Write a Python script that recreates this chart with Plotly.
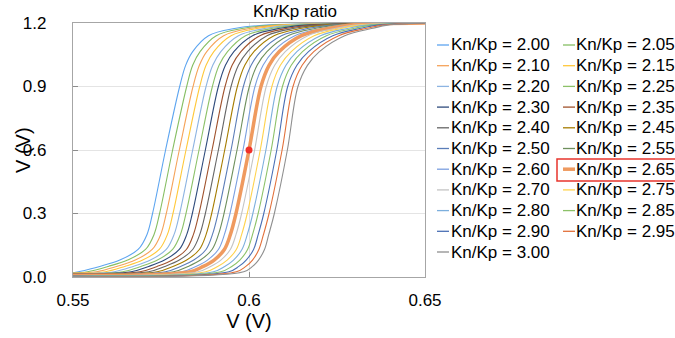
import plotly.graph_objects as go

# ---------------- data ----------------
ratios = [2.00, 2.05, 2.10, 2.15, 2.20, 2.25, 2.30, 2.35, 2.40, 2.45, 2.50,
          2.55, 2.60, 2.65, 2.70, 2.75, 2.80, 2.85, 2.90, 2.95, 3.00]

# input voltage where each curve starts / ends (left and right edges)
v_in_start = 0.55
v_in_end = 0.65
v_out_end = 1.2

# output voltage of each curve at V_in = 0.55
v_out_start = [0.020, 0.019, 0.018, 0.017, 0.016, 0.015, 0.015, 0.014, 0.013, 0.012, 0.011,
               0.010, 0.009, 0.008, 0.007, 0.006, 0.006, 0.005, 0.004, 0.003, 0.002]

# output-voltage levels at which the input voltage of each curve was read
v_out_levels = [0.025, 0.05, 0.08, 0.13, 0.20, 0.30, 0.60, 0.90, 1.00, 1.065, 1.14, 1.175, 1.19]

# input voltage of each curve at the levels above
v_in_2_00 = [0.5515, 0.5576, 0.5633, 0.5685, 0.5710, 0.5726, 0.5763, 0.5803, 0.5820, 0.5840, 0.5885, 0.5963, 0.6048]
v_in_2_05 = [0.5541, 0.5600, 0.5655, 0.5706, 0.5730, 0.5746, 0.5783, 0.5823, 0.5840, 0.5861, 0.5907, 0.5985, 0.6068]
v_in_2_10 = [0.5566, 0.5624, 0.5677, 0.5725, 0.5749, 0.5765, 0.5802, 0.5841, 0.5859, 0.5880, 0.5928, 0.6006, 0.6087]
v_in_2_15 = [0.5592, 0.5647, 0.5698, 0.5745, 0.5768, 0.5784, 0.5821, 0.5860, 0.5878, 0.5900, 0.5949, 0.6027, 0.6106]
v_in_2_20 = [0.5617, 0.5671, 0.5720, 0.5765, 0.5787, 0.5803, 0.5840, 0.5878, 0.5897, 0.5920, 0.5970, 0.6049, 0.6125]
v_in_2_25 = [0.5641, 0.5693, 0.5740, 0.5783, 0.5805, 0.5821, 0.5858, 0.5896, 0.5915, 0.5939, 0.5990, 0.6069, 0.6143]
v_in_2_30 = [0.5665, 0.5715, 0.5760, 0.5802, 0.5823, 0.5839, 0.5876, 0.5913, 0.5933, 0.5957, 0.6010, 0.6089, 0.6161]
v_in_2_35 = [0.5690, 0.5739, 0.5782, 0.5822, 0.5842, 0.5858, 0.5895, 0.5932, 0.5952, 0.5977, 0.6031, 0.6110, 0.6180]
v_in_2_40 = [0.5715, 0.5761, 0.5802, 0.5840, 0.5860, 0.5876, 0.5913, 0.5949, 0.5970, 0.5996, 0.6051, 0.6130, 0.6198]
v_in_2_45 = [0.5739, 0.5784, 0.5823, 0.5859, 0.5878, 0.5894, 0.5931, 0.5967, 0.5988, 0.6014, 0.6071, 0.6150, 0.6216]
v_in_2_50 = [0.5763, 0.5806, 0.5843, 0.5878, 0.5896, 0.5912, 0.5949, 0.5984, 0.6006, 0.6033, 0.6092, 0.6171, 0.6234]
v_in_2_55 = [0.5786, 0.5827, 0.5862, 0.5895, 0.5913, 0.5929, 0.5966, 0.6001, 0.6023, 0.6051, 0.6111, 0.6190, 0.6251]
v_in_2_60 = [0.5809, 0.5849, 0.5882, 0.5913, 0.5930, 0.5946, 0.5983, 0.6017, 0.6040, 0.6068, 0.6130, 0.6209, 0.6268]
v_in_2_65 = [0.5833, 0.5870, 0.5901, 0.5930, 0.5947, 0.5963, 0.6000, 0.6034, 0.6057, 0.6086, 0.6149, 0.6228, 0.6285]
v_in_2_70 = [0.5855, 0.5891, 0.5920, 0.5947, 0.5963, 0.5979, 0.6016, 0.6049, 0.6073, 0.6103, 0.6167, 0.6246, 0.6301]
v_in_2_75 = [0.5877, 0.5911, 0.5938, 0.5964, 0.5979, 0.5995, 0.6032, 0.6065, 0.6089, 0.6120, 0.6185, 0.6264, 0.6317]
v_in_2_80 = [0.5899, 0.5931, 0.5956, 0.5980, 0.5995, 0.6011, 0.6048, 0.6080, 0.6105, 0.6136, 0.6203, 0.6282, 0.6333]
v_in_2_85 = [0.5920, 0.5951, 0.5974, 0.5996, 0.6010, 0.6026, 0.6063, 0.6095, 0.6120, 0.6152, 0.6220, 0.6300, 0.6348]
v_in_2_90 = [0.5943, 0.5971, 0.5992, 0.6013, 0.6026, 0.6042, 0.6079, 0.6110, 0.6136, 0.6169, 0.6238, 0.6318, 0.6364]
v_in_2_95 = [0.5964, 0.5991, 0.6010, 0.6028, 0.6041, 0.6057, 0.6094, 0.6125, 0.6151, 0.6184, 0.6255, 0.6335, 0.6379]
v_in_3_00 = [0.5985, 0.6010, 0.6027, 0.6044, 0.6056, 0.6072, 0.6109, 0.6139, 0.6166, 0.6200, 0.6272, 0.6352, 0.6394]

v_in_curves = [v_in_2_00, v_in_2_05, v_in_2_10, v_in_2_15, v_in_2_20, v_in_2_25, v_in_2_30,
               v_in_2_35, v_in_2_40, v_in_2_45, v_in_2_50, v_in_2_55, v_in_2_60, v_in_2_65,
               v_in_2_70, v_in_2_75, v_in_2_80, v_in_2_85, v_in_2_90, v_in_2_95, v_in_3_00]

highlight_ratio = 2.65
marker_x = [0.6]
marker_y = [0.6]

x_tick_vals = [0.55, 0.6, 0.65]
x_tick_labels = ["0.55", "0.6", "0.65"]
y_tick_vals = [0.0, 0.3, 0.6, 0.9, 1.2]
y_tick_labels = ["0.0", "0.3", "0.6", "0.9", "1.2"]

# ---------------- style ----------------
colors = ['#5DA5F0', '#86BE63', '#F5A35A', '#FFC83A', '#8DB4E2', '#8CC168', '#2F4B7C',
          '#A0522D', '#666666', '#A67C00', '#5B7DB8', '#6E8F5C', '#7B9FE0', '#EF9A5F',
          '#C4C4C4', '#FFD34D', '#7CAFDD', '#8CC168', '#4A6FB5', '#E2703A', '#8F8F8F']

FONT = "Liberation Sans, Arial, Helvetica, sans-serif"
W, H = 675, 338
L, R, T, B = 73, 425, 23, 277  # plot area in pixels


def px_x(p):
    return (p - L) / (R - L)


def px_y(p):
    return (B - p) / (B - T)


fig = go.Figure()
for i, r in enumerate(ratios):
    xs = [v_in_start] + v_in_curves[i] + [v_in_end]
    ys = [v_out_start[i]] + v_out_levels + [v_out_end]
    hl = abs(r - highlight_ratio) < 1e-9
    fig.add_trace(go.Scatter(
        x=xs, y=ys, mode="lines", name=f"Kn/Kp = {r:.2f}",
        line=dict(color=colors[i], width=3.5 if hl else 1.1, shape="spline", smoothing=1.0),
        showlegend=False))

fig.add_trace(go.Scatter(x=marker_x, y=marker_y, mode="markers",
                         marker=dict(color="#F0302A", size=7), showlegend=False))

# ---------------- hand-drawn legend (two columns, row-wise order) ----------------
shapes = []
annotations = []
row0, row_step = 45, 20.7
col_line = [(437, 449), (563, 575)]
col_text = [450, 575]
for i, r in enumerate(ratios):
    row, col = divmod(i, 2)
    yc = row0 + row * row_step
    hl = abs(r - highlight_ratio) < 1e-9
    shapes.append(dict(type="line", xref="paper", yref="paper",
                       x0=px_x(col_line[col][0]), x1=px_x(col_line[col][1]),
                       y0=px_y(yc), y1=px_y(yc),
                       line=dict(color=colors[i], width=3.5 if hl else 1.3)))
    annotations.append(dict(xref="paper", yref="paper", x=px_x(col_text[col]), y=px_y(yc),
                            xanchor="left", yanchor="middle", showarrow=False,
                            text=f"Kn/Kp = {r:.2f}", borderpad=0,
                            font=dict(family=FONT, size=17, color="#000000")))
    if hl:
        shapes.append(dict(type="rect", xref="paper", yref="paper",
                           x0=px_x(557), x1=px_x(677), y0=px_y(181), y1=px_y(159),
                           line=dict(color="#E8352C", width=1.5)))

# y-axis title (placed by hand to sit close to the tick labels)
annotations.append(dict(xref="paper", yref="paper", x=px_x(23), y=0.5,
                        xanchor="center", yanchor="middle", showarrow=False, textangle=-90,
                        text="V (V)", font=dict(family=FONT, size=20, color="#000000")))

fig.update_layout(
    width=W, height=H,
    margin=dict(l=L, r=W - R, t=T, b=H - B, pad=0, autoexpand=False),
    paper_bgcolor="white", plot_bgcolor="white",
    font=dict(family=FONT, size=17, color="#000000"),
    title=dict(text="Kn/Kp ratio", x=295 / W, xref="container", xanchor="center",
               y=1 - 11 / H, yref="container", yanchor="middle",
               font=dict(family=FONT, size=17, color="#000000")),
    shapes=shapes, annotations=annotations,
)

fig.update_xaxes(range=[0.55, 0.65], tickmode="array", tickvals=x_tick_vals, ticktext=x_tick_labels,
                 ticks="inside", ticklen=5, tickcolor="#8C8C8C", automargin=False,
                 showline=True, linecolor="#A6A6A6", linewidth=1.3, mirror=True,
                 showgrid=True, gridcolor="#E4E4E4", gridwidth=1, zeroline=False,
                 tickfont=dict(family=FONT, size=17), ticklabelstandoff=7,
                 title=dict(text="V (V)", font=dict(family=FONT, size=20), standoff=3))
fig.update_yaxes(range=[0, 1.2], tickmode="array", tickvals=y_tick_vals, ticktext=y_tick_labels,
                 ticks="inside", ticklen=5, tickcolor="#8C8C8C", automargin=False,
                 showline=True, linecolor="#A6A6A6", linewidth=1.3, mirror=True,
                 showgrid=True, gridcolor="#E4E4E4", gridwidth=1, zeroline=False,
                 tickfont=dict(family=FONT, size=17), ticklabelstandoff=22)

fig.write_html("out.html", config={"displayModeBar": False},
               post_script="document.body.style.margin='0';")
